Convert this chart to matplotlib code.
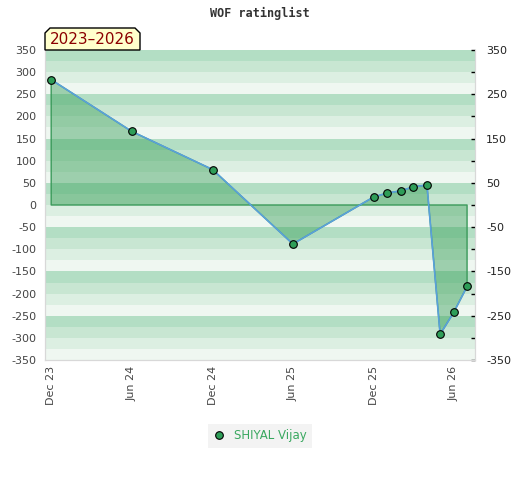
import datetime as dt
import matplotlib
matplotlib.use("Agg")
import matplotlib.pyplot as plt
import matplotlib.dates as mdates
from matplotlib.patches import Polygon

plt.rcParams["axes.unicode_minus"] = False

# data
dates = [dt.date(2023, 12, 1), dt.date(2024, 6, 1), dt.date(2024, 12, 1),
         dt.date(2025, 6, 1), dt.date(2025, 12, 1), dt.date(2026, 1, 1),
         dt.date(2026, 2, 1), dt.date(2026, 3, 1), dt.date(2026, 4, 1),
         dt.date(2026, 5, 1), dt.date(2026, 6, 1), dt.date(2026, 7, 1)]
rating = [283, 166, 80, -88, 18, 27, 32, 41, 45, -292, -242, -184]
tick_dates = [dt.date(2023, 12, 1), dt.date(2024, 6, 1), dt.date(2024, 12, 1),
              dt.date(2025, 6, 1), dt.date(2025, 12, 1), dt.date(2026, 6, 1)]
tick_labels = ["Dec 23", "Jun 24", "Dec 24", "Jun 25", "Dec 25", "Jun 26"]
player = "SHIYAL Vijay"
period = "2023\u20132026"
title = "WOF ratinglist"

band_colors = ["#b3dec4", "#c8e6d2", "#dcefe2", "#eff7f1"]
green = "#2e9e58"

fig = plt.figure(figsize=(5.2, 4.8), dpi=100)
ax = fig.add_axes([45 / 520, 1 - 360 / 480, 430 / 520, 310 / 480])

# striped background, 25 units per band
for i in range(28):
    top = 350 - 25 * i
    ax.axhspan(top - 25, top, color=band_colors[i % 4], lw=0, zorder=0)

x = mdates.date2num(dates)
ax.fill_between(x, rating, 0, facecolor="#3aa05a", alpha=0.45,
                edgecolor="none", zorder=2)
ax.fill_between(x, rating, 0, facecolor="none", edgecolor="#3a9a5a",
                lw=1, zorder=3)
ax.plot(x, rating, color="#5aa0dc", lw=1.2, zorder=4)
ax.plot(x, rating, "o", ms=5.5, mfc=green, mec="black", mew=0.8,
        ls="none", zorder=5, label=player)

ax.set_xlim(mdates.date2num(dt.date(2023, 11, 17)), mdates.date2num(dt.date(2026, 7, 19)))
ax.set_ylim(-350, 350)
ax.set_xticks(mdates.date2num(tick_dates))
ax.set_xticklabels(tick_labels, rotation=90)
ax.set_yticks(range(-350, 351, 50))
ax.tick_params(axis="y", length=0, pad=6, labelsize=8, labelcolor="#444444")
ax.tick_params(axis="x", length=0, pad=4, labelsize=8, labelcolor="#444444")

ax2 = ax.twinx()
ax2.set_ylim(-350, 350)
ax2.set_yticks(range(-350, 351, 50))
ax2.set_yticklabels([str(v) if (v - 50) % 100 == 0 else "" for v in range(-350, 351, 50)])
ax2.tick_params(axis="y", direction="in", length=3, width=1, color="black",
                pad=8, labelsize=8, labelcolor="#222222")

for a in (ax, ax2):
    for s in a.spines.values():
        s.set_color("#d8d8d8")
    a.spines["top"].set_visible(False)

fig.text(0.5, 1 - 13 / 480, title, ha="center", va="center",
         family="DejaVu Sans Mono", weight="bold", size=8.5, color="#333333")

# beveled period label
px = [45, 45, 50, 135, 140, 140]
py = [50, 33, 28, 28, 33, 50]
fig.add_artist(Polygon([(a / 520, 1 - b / 480) for a, b in zip(px, py)],
                       closed=True, facecolor="#ffffcc", edgecolor="black",
                       lw=1, transform=fig.transFigure, zorder=10))
fig.text(92 / 520, 1 - 40 / 480, period, ha="center", va="center",
         size=11, color="#8b0000", zorder=11)

leg = fig.legend(loc="center", bbox_to_anchor=(0.5, 1 - 436 / 480),
                 frameon=True, fontsize=8.5, handletextpad=0.8,
                 borderpad=0.45, handlelength=1.0)
leg.get_frame().set_facecolor("#f0f0f0")
leg.get_frame().set_edgecolor("none")
leg.get_frame().set_boxstyle("square", pad=0.0)
for t in leg.get_texts():
    t.set_color("#3aa860")

fig.savefig("out.png", dpi=100)
